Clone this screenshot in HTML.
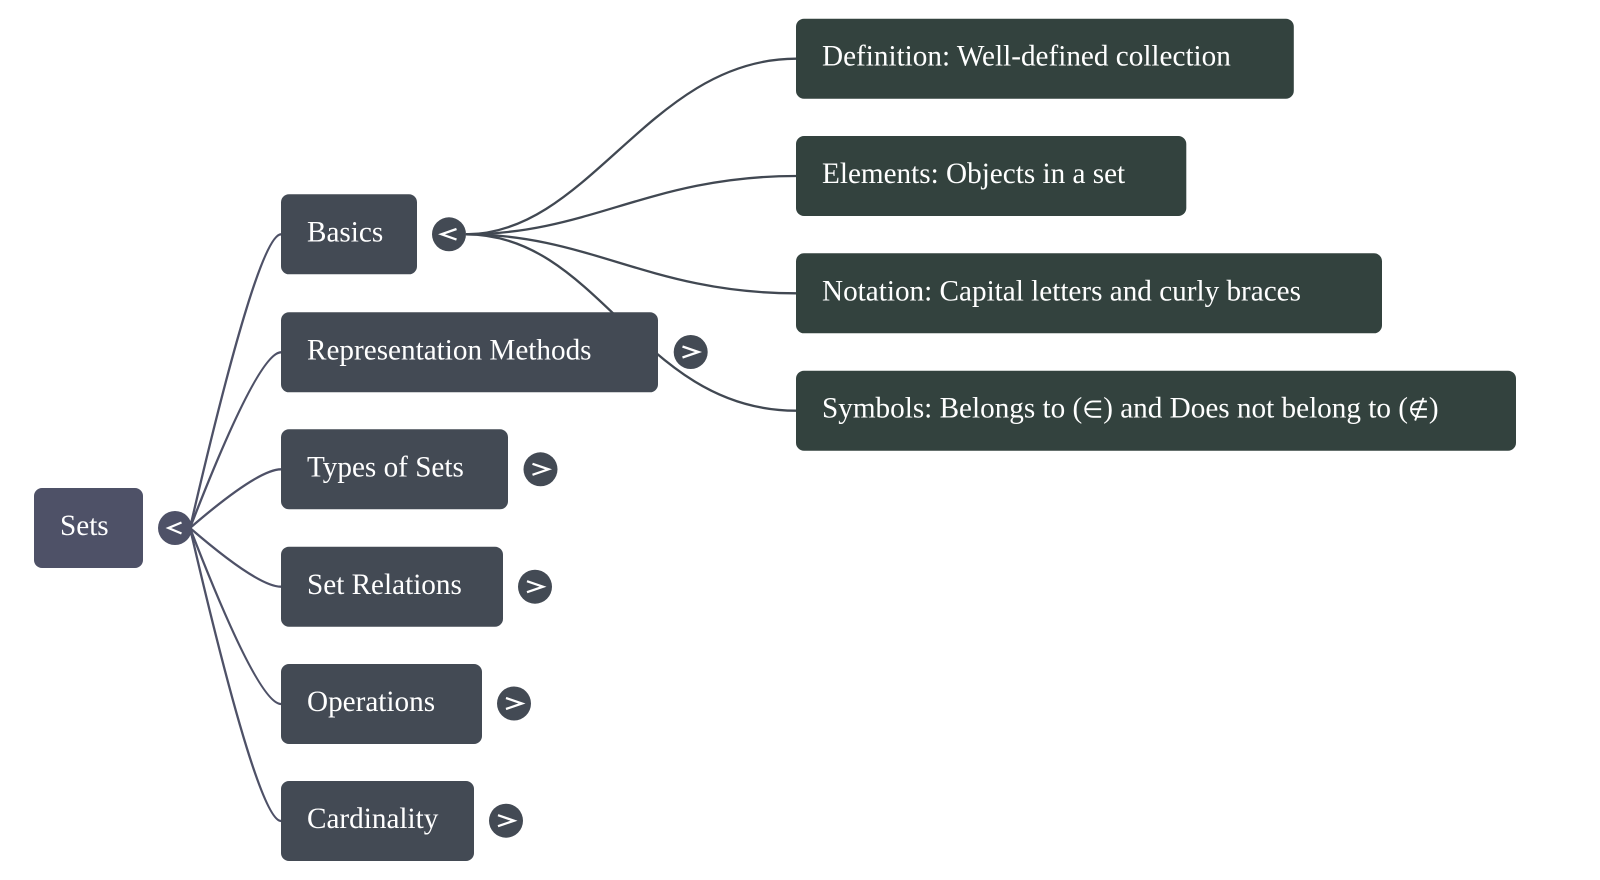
<!DOCTYPE html>
<html>
<head>
<meta charset="utf-8">
<style>
  html, body { margin: 0; padding: 0; background: #ffffff; }
  svg { display: block; }
  .lbl { font-family: "Liberation Serif", "Times New Roman", serif; font-size: 29.2px; fill: #ffffff; }
  .sym { font-size: 24px; }
</style>
</head>
<body>
<svg width="1600" height="880" viewBox="0 0 1600 880" xmlns="http://www.w3.org/2000/svg">
  <rect x="0" y="0" width="1600" height="880" fill="#ffffff"/>

  <!-- Root branch lines -->
  <g fill="none" stroke="#4e5167" stroke-width="2.3">
    <path d="M190 528 Q258 234.3 281 234.3"/>
    <path d="M190 528 Q258 352.3 281 352.3"/>
    <path d="M190 528 Q258 469.3 281 469.3"/>
    <path d="M190 528 Q258 586.7 281 586.7"/>
    <path d="M190 528 Q258 704 281 704"/>
    <path d="M190 528 Q258 821 281 821"/>
  </g>

  <!-- Basics branch lines -->
  <g fill="none" stroke="#414852" stroke-width="2.3">
    <path d="M466 234.3 C590 234.3 650 58.7 796 58.7"/>
    <path d="M466 234.3 C590 234.3 650 176 796 176"/>
    <path d="M466 234.3 C590 234.3 650 293.3 796 293.3"/>
    <path d="M466 234.3 C600 234.3 640 410.7 796 410.7"/>
  </g>

  <!-- Root node -->
  <rect x="34" y="488" width="109" height="80" rx="8" ry="8" fill="#4e5167"/>
  <text class="lbl" x="60" y="535">Sets</text>

  <!-- Level 1 nodes -->
  <g fill="#434a54">
    <rect x="281" y="194.3" width="136" height="80" rx="8" ry="8"/>
    <rect x="281" y="312.3" width="377" height="80" rx="8" ry="8"/>
    <rect x="281" y="429.3" width="227" height="80" rx="8" ry="8"/>
    <rect x="281" y="546.7" width="222" height="80" rx="8" ry="8"/>
    <rect x="281" y="664" width="201" height="80" rx="8" ry="8"/>
    <rect x="281" y="781" width="193" height="80" rx="8" ry="8"/>
  </g>
  <text class="lbl" x="307" y="241.5">Basics</text>
  <text class="lbl" x="307" y="359.5">Representation Methods</text>
  <text class="lbl" x="307" y="476.5">Types of Sets</text>
  <text class="lbl" x="307" y="593.8">Set Relations</text>
  <text class="lbl" x="307" y="711">Operations</text>
  <text class="lbl" x="307" y="828">Cardinality</text>

  <!-- Level 2 nodes -->
  <g fill="#33423e">
    <rect x="796" y="18.7" width="497.8" height="80" rx="8" ry="8"/>
    <rect x="796" y="136" width="390.3" height="80" rx="8" ry="8"/>
    <rect x="796" y="253.3" width="586" height="80" rx="8" ry="8"/>
    <rect x="796" y="370.7" width="720" height="80" rx="8" ry="8"/>
  </g>
  <text class="lbl" x="822" y="65.5">Definition: Well-defined collection</text>
  <text class="lbl" x="822" y="183">Elements: Objects in a set</text>
  <text class="lbl" x="822" y="300.3">Notation: Capital letters and curly braces</text>
  <text class="lbl" x="822" y="417.7">Symbols: Belongs to (<tspan class="sym">∈</tspan>) and Does not belong to (<tspan class="sym">∉</tspan>)</text>

  <!-- Expander circles -->
  <circle cx="175" cy="528" r="17" fill="#4e5167"/>
  <circle cx="449" cy="234.3" r="17" fill="#434a54"/>
  <circle cx="690.7" cy="352" r="17" fill="#434a54"/>
  <circle cx="540.5" cy="469.3" r="17" fill="#434a54"/>
  <circle cx="535" cy="586.7" r="17" fill="#434a54"/>
  <circle cx="514" cy="703.5" r="17" fill="#434a54"/>
  <circle cx="506" cy="820.7" r="17" fill="#434a54"/>

  <!-- Chevrons -->
  <g fill="none" stroke="#ffffff" stroke-width="2.3" stroke-linejoin="miter" stroke-linecap="butt">
    <polyline points="181.5,522.5 168.5,528 181.5,533.5"/>
    <polyline points="456.5,229 441.5,234.3 456.5,239.6"/>
    <polyline points="682.5,346.5 698.5,352 682.5,357.5"/>
    <polyline points="532.5,463.8 548.5,469.3 532.5,474.8"/>
    <polyline points="527,581.2 543,586.7 527,592.2"/>
    <polyline points="506,698 522,703.5 506,709"/>
    <polyline points="498,815.2 514,820.7 498,826.2"/>
  </g>
</svg>
</body>
</html>
